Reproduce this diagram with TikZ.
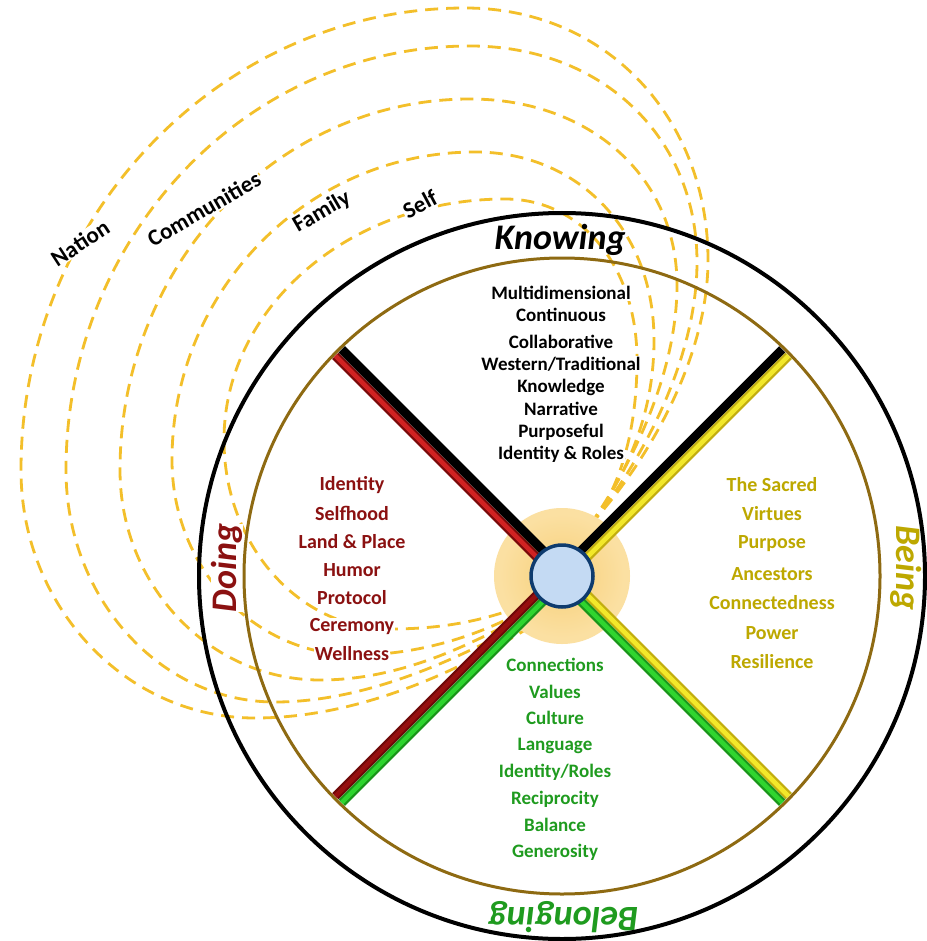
\documentclass[tikz,border=0pt]{standalone}
\usepackage{fontspec}
\setmainfont{Carlito}
\usetikzlibrary{calc}
\definecolor{dashc}{HTML}{F3BF2A}
\definecolor{brownc}{HTML}{8E6A12}
\definecolor{doingc}{HTML}{8B1111}
\definecolor{beingc}{HTML}{BDA800}
\definecolor{belongc}{HTML}{1F9B1F}
\definecolor{glowin}{HTML}{F7CF78}
\definecolor{glowout}{HTML}{FBE0A2}
\definecolor{bluefill}{HTML}{C4DAF3}
\definecolor{blueline}{HTML}{0E3B6E}
\definecolor{redout}{HTML}{7A0A0A}
\definecolor{redin}{HTML}{D02222}
\definecolor{dredout}{HTML}{6E0808}
\definecolor{dredin}{HTML}{960F0F}
\definecolor{yelout}{HTML}{C2AE10}
\definecolor{yelin}{HTML}{F2E82A}
\definecolor{grnout}{HTML}{1A951A}
\definecolor{grnin}{HTML}{2FD52F}
\tikzset{
  loopline/.style={draw=dashc, line width=2.8pt, dash pattern=on 13pt off 8pt},
  itemtxt/.style={font=\fontsize{19}{19}\selectfont\bfseries, fill=white, inner sep=1pt},
  headtxt/.style={font=\fontsize{36}{36}\selectfont\bfseries\itshape, inner sep=0pt},
  ringtxt/.style={font=\fontsize{23}{23}\selectfont\bfseries, fill=white, inner sep=1pt},
  stripout/.style={line width=9pt, line cap=butt},
  stripin/.style={line width=4.5pt, line cap=butt},
}
\begin{document}
\begin{tikzpicture}[x=1pt, y=-1pt]
\useasboundingbox (0,0) rectangle (926,941);
\fill[white] (0,0) rectangle (926,941);
\coordinate (C) at (562,576);

% dashed loops (Nation, Communities, ..., Self)
\draw[loopline] (590,525) .. controls (645,465) and (708,360) .. (708,260)
  .. controls (708,120) and (608,8) .. (465,8)
  .. controls (222,8) and (21,215) .. (21,470)
  .. controls (21,607) and (126,718) .. (255,718)
  .. controls (360,718) and (460,670) .. (525,630);
\draw[loopline] (590,525) .. controls (640,465) and (697,360) .. (697,262)
  .. controls (697,137) and (602,46) .. (470,46)
  .. controls (247,46) and (66,236) .. (66,470)
  .. controls (66,598) and (160,702) .. (275,702)
  .. controls (370,702) and (465,655) .. (525,622);
\draw[loopline] (590,525) .. controls (635,460) and (677,370) .. (677,285)
  .. controls (677,177) and (590,99) .. (470,99)
  .. controls (277,99) and (120,265) .. (120,470)
  .. controls (120,586) and (210,680) .. (320,680)
  .. controls (400,680) and (470,645) .. (525,615);
\draw[loopline] (590,525) .. controls (630,470) and (654,410) .. (654,340)
  .. controls (654,231) and (579,152) .. (475,152)
  .. controls (308,152) and (172,290) .. (172,460)
  .. controls (172,568) and (254,655) .. (355,655)
  .. controls (420,655) and (480,635) .. (525,610);
\draw[loopline] (590,525) .. controls (620,490) and (637,430) .. (637,360)
  .. controls (637,267) and (582,199) .. (505,199)
  .. controls (350,199) and (224,307) .. (224,440)
  .. controls (224,544) and (298,629) .. (390,629)
  .. controls (450,629) and (490,618) .. (525,605);

% loop labels
\node[ringtxt, rotate=33] (nation) at (80,243) {Nation};
\node[ringtxt, rotate=30] (communities) at (204,209) {Communities};
\node[ringtxt, rotate=30] (family) at (322,212) {Family};
\node[ringtxt, rotate=28] (self) at (420,204) {Self};

% Knowing items
\begin{scope}[every node/.style={itemtxt, text=black}]
\node (k1) at (561,293) {Multidimensional};
\node (k2) at (561,315) {Continuous};
\node (k3) at (561,342) {Collaborative};
\node (k4) at (561,364) {Western/Traditional};
\node (k5) at (561,387) {Knowledge};
\node (k6) at (561,409) {Narrative};
\node (k7) at (561,432) {Purposeful};
\node (k8) at (561,454) {Identity \& Roles};
\end{scope}
% Doing items
\begin{scope}[every node/.style={itemtxt, text=doingc, font=\fontsize{20}{20}\selectfont\bfseries}]
\node (d1) at (352,485) {Identity};
\node (d2) at (352,513) {Selfhood};
\node (d3) at (352,542) {Land \& Place};
\node (d4) at (352,570) {Humor};
\node (d5) at (352,598) {Protocol};
\node (d6) at (352,627) {Ceremony};
\node (d7) at (352,654) {Wellness};
\end{scope}
% Being items
\begin{scope}[every node/.style={itemtxt, text=beingc, font=\fontsize{20}{20}\selectfont\bfseries}]
\node (b1) at (772,485) {The Sacred};
\node (b2) at (772,514) {Virtues};
\node (b3) at (772,544) {Purpose};
\node (b4) at (772,574) {Ancestors};
\node (b5) at (772,603) {Connectedness};
\node (b6) at (772,633) {Power};
\node (b7) at (772,662) {Resilience};
\end{scope}
% Belonging items
\begin{scope}[every node/.style={itemtxt, text=belongc}]
\node (g1) at (555,665) {Connections};
\node (g2) at (555,692) {Values};
\node (g3) at (555,718) {Culture};
\node (g4) at (555,746) {Language};
\node (g5) at (555,772) {Identity/Roles};
\node (g6) at (555,799) {Reciprocity};
\node (g7) at (555,825) {Balance};
\node (g8) at (555,852) {Generosity};
\end{scope}

% headings
\node[headtxt] (knowing) at (560,240) {Knowing};
\node[headtxt, text=doingc, rotate=90, fill=white] (doing) at (227,568) {Doing};
\node[headtxt, text=beingc, rotate=-90] (being) at (906,568) {Being};
\node[headtxt, text=belongc, rotate=180] (belonging) at (563,917) {Belonging};

% circles
\draw[black, line width=4pt] (C) circle[radius=363pt];
\draw[brownc, line width=3pt] (C) circle[radius=318pt];

% glow
\fill[glowout] (C) circle[radius=68pt];
\shade[inner color=glowin, outer color=glowout] (C) circle[radius=62pt];

% spokes
\coordinate (ulB0) at (565.2,572.8); \coordinate (ulB1) at (341.8,349.4);
\coordinate (ulR0) at (558.8,579.2); \coordinate (ulR1) at (335.4,355.8);
\coordinate (urB0) at (558.8,572.8); \coordinate (urB1) at (782.2,349.4);
\coordinate (urY0) at (565.2,579.2); \coordinate (urY1) at (788.6,355.8);
\coordinate (lrY0) at (565.2,572.8); \coordinate (lrY1) at (788.6,796.2);
\coordinate (lrG0) at (558.8,579.2); \coordinate (lrG1) at (782.2,802.6);
\coordinate (llR0) at (558.8,572.8); \coordinate (llR1) at (335.4,796.2);
\coordinate (llG0) at (565.2,579.2); \coordinate (llG1) at (341.8,802.6);

\draw[stripout, redout] (ulR0) -- (ulR1);
\draw[stripin, redin] (ulR0) -- (ulR1);
\draw[stripout, black] (ulB0) -- (ulB1);
\draw[stripout, black] (urB0) -- (urB1);
\draw[stripout, yelout] (urY0) -- (urY1);
\draw[stripin, yelin] (urY0) -- (urY1);
\draw[stripout, yelout] (lrY0) -- (lrY1);
\draw[stripin, yelin] (lrY0) -- (lrY1);
\draw[stripout, grnout] (lrG0) -- (lrG1);
\draw[stripin, grnin] (lrG0) -- (lrG1);
\draw[stripout, dredout] (llR0) -- (llR1);
\draw[stripin, dredin] (llR0) -- (llR1);
\draw[stripout, grnout] (llG0) -- (llG1);
\draw[stripin, grnin] (llG0) -- (llG1);

% center circle
\node[circle, minimum size=62pt, fill=bluefill, draw=blueline, line width=3.5pt, inner sep=0pt] (hub) at (C) {};
\end{tikzpicture}
\end{document}
